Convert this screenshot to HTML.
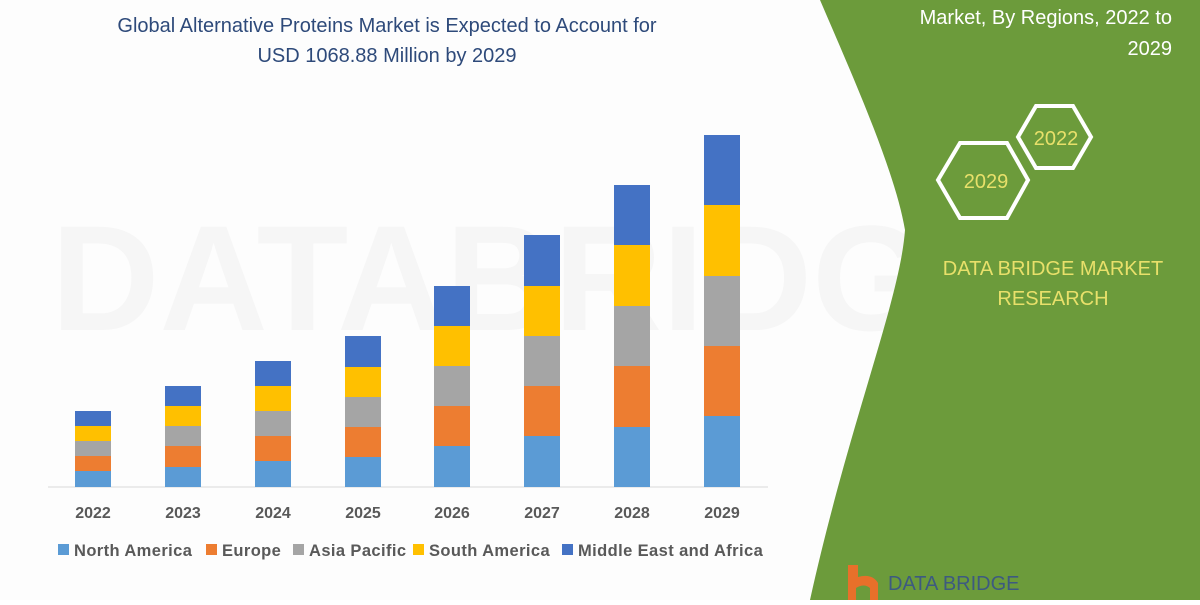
<!DOCTYPE html>
<html><head><style>
body{margin:0;width:1200px;height:600px;overflow:hidden;background:#fff;font-family:"Liberation Sans",sans-serif;}
</style></head><body>
<svg width="1200" height="600" xmlns="http://www.w3.org/2000/svg">
<rect width="1200" height="600" fill="#fdfdfd"/>
<text x="540" y="330" font-size="150" fill="#f6f6f6" font-weight="bold" text-anchor="middle">DATABRIDGE</text>
<path d="M820,0 C850,70 895,170 905,230 C900,300 850,420 810,600 L1200,600 L1200,0 Z" fill="#6c9b3b"/>
<g font-size="20" fill="#2e4a7a" text-anchor="middle">
<text x="387" y="32">Global Alternative Proteins Market is Expected to Account for</text>
<text x="387" y="62">USD 1068.88 Million by 2029</text>
</g>
<g font-size="20" fill="#fff" text-anchor="end">
<text x="1172" y="24">Market, By Regions, 2022 to</text>
<text x="1172" y="55">2029</text>
</g>
<g fill="none" stroke="#fff" stroke-width="4">
<polygon points="1018,137 1036,106 1073,106 1091,137 1073,168 1036,168"/>
<polygon points="938,180 960,143 1007,143 1028,180 1007,218 960,218"/>
</g>
<g font-size="20" fill="#e8e06a" text-anchor="middle">
<text x="1056" y="145">2022</text>
<text x="986" y="188">2029</text>
<text x="1053" y="275">DATA BRIDGE MARKET</text>
<text x="1053" y="305">RESEARCH</text>
</g>
<line x1="48" y1="487" x2="768" y2="487" stroke="#d9d9d9" stroke-width="1"/>
<g font-size="16" font-weight="bold" fill="#595959" text-anchor="middle">
<text x="93" y="518">2022</text><text x="183" y="518">2023</text><text x="273" y="518">2024</text><text x="363" y="518">2025</text>
<text x="452" y="518">2026</text><text x="542" y="518">2027</text><text x="632" y="518">2028</text><text x="722" y="518">2029</text>
</g>
<g font-size="16.5" font-weight="bold" fill="#595959" letter-spacing="0.4">
<rect x="58" y="544" width="11" height="11" fill="#5b9bd5"/><text x="74" y="556">North America</text>
<rect x="206" y="544" width="11" height="11" fill="#ed7d31"/><text x="222" y="556">Europe</text>
<rect x="293" y="544" width="11" height="11" fill="#a5a5a5"/><text x="309" y="556">Asia Pacific</text>
<rect x="413" y="544" width="11" height="11" fill="#ffc000"/><text x="429" y="556">South America</text>
<rect x="562" y="544" width="11" height="11" fill="#4472c4"/><text x="578" y="556">Middle East and Africa</text>
</g>
<g>
<rect x="75" y="471" width="36" height="16" fill="#5b9bd5"/><rect x="75" y="456" width="36" height="15" fill="#ed7d31"/><rect x="75" y="441" width="36" height="15" fill="#a5a5a5"/><rect x="75" y="426" width="36" height="15" fill="#ffc000"/><rect x="75" y="411" width="36" height="15" fill="#4472c4"/>
<rect x="165" y="467" width="36" height="20" fill="#5b9bd5"/><rect x="165" y="446" width="36" height="21" fill="#ed7d31"/><rect x="165" y="426" width="36" height="20" fill="#a5a5a5"/><rect x="165" y="406" width="36" height="20" fill="#ffc000"/><rect x="165" y="386" width="36" height="20" fill="#4472c4"/>
<rect x="255" y="461" width="36" height="26" fill="#5b9bd5"/><rect x="255" y="436" width="36" height="25" fill="#ed7d31"/><rect x="255" y="411" width="36" height="25" fill="#a5a5a5"/><rect x="255" y="386" width="36" height="25" fill="#ffc000"/><rect x="255" y="361" width="36" height="25" fill="#4472c4"/>
<rect x="345" y="457" width="36" height="30" fill="#5b9bd5"/><rect x="345" y="427" width="36" height="30" fill="#ed7d31"/><rect x="345" y="397" width="36" height="30" fill="#a5a5a5"/><rect x="345" y="367" width="36" height="30" fill="#ffc000"/><rect x="345" y="336" width="36" height="31" fill="#4472c4"/>
<rect x="434" y="446" width="36" height="41" fill="#5b9bd5"/><rect x="434" y="406" width="36" height="40" fill="#ed7d31"/><rect x="434" y="366" width="36" height="40" fill="#a5a5a5"/><rect x="434" y="326" width="36" height="40" fill="#ffc000"/><rect x="434" y="286" width="36" height="40" fill="#4472c4"/>
<rect x="524" y="436" width="36" height="51" fill="#5b9bd5"/><rect x="524" y="386" width="36" height="50" fill="#ed7d31"/><rect x="524" y="336" width="36" height="50" fill="#a5a5a5"/><rect x="524" y="286" width="36" height="50" fill="#ffc000"/><rect x="524" y="235" width="36" height="51" fill="#4472c4"/>
<rect x="614" y="427" width="36" height="60" fill="#5b9bd5"/><rect x="614" y="366" width="36" height="61" fill="#ed7d31"/><rect x="614" y="306" width="36" height="60" fill="#a5a5a5"/><rect x="614" y="245" width="36" height="61" fill="#ffc000"/><rect x="614" y="185" width="36" height="60" fill="#4472c4"/>
<rect x="704" y="416" width="36" height="71" fill="#5b9bd5"/><rect x="704" y="346" width="36" height="70" fill="#ed7d31"/><rect x="704" y="276" width="36" height="70" fill="#a5a5a5"/><rect x="704" y="205" width="36" height="71" fill="#ffc000"/><rect x="704" y="135" width="36" height="70" fill="#4472c4"/>
</g>
<path d="M848,565 h10 v12 q14,-4 20,6 v17 h-8 v-12 q-6,-5 -14,0 v12 h-8 z" fill="#e8702a"/>
<text x="888" y="590" font-size="20" fill="#3d5a80">DATA BRIDGE</text>
</svg>
</body></html>
